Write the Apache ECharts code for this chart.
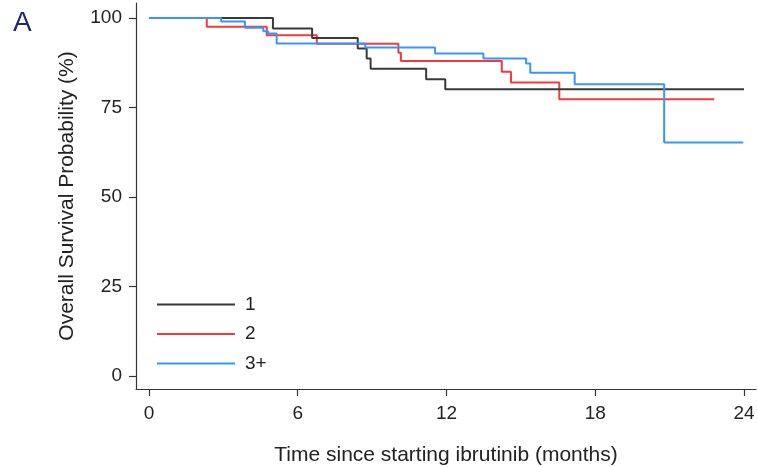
<!DOCTYPE html>
<html><head><meta charset="utf-8">
<script src="https://cdn.jsdelivr.net/npm/echarts@6/dist/echarts.min.js"></script>
<style>html,body{margin:0;padding:0;background:#fff}#c{width:758px;height:467px}</style>
</head><body><div id="c"></div>
<script>
var seriesNames = ['1', '2', '3+'];
var times1 = [0, 5.0, 6.58, 8.42, 8.78, 8.94, 11.18, 11.95, 24.0];
var surv1  = [100, 97.1, 94.4, 91.5, 88.7, 85.8, 82.9, 80.1, 80.1];
var times2 = [0, 2.33, 4.75, 6.77, 10.06, 10.16, 14.23, 14.6, 16.55, 22.8];
var surv2  = [100, 97.6, 95.2, 92.8, 90.3, 88.0, 85.0, 82.0, 77.3, 77.3];
var times3 = [0, 2.91, 3.87, 4.61, 4.8, 5.15, 8.72, 11.54, 13.49, 15.21, 15.38, 17.17, 20.78, 23.97];
var surv3  = [100, 99.0, 97.3, 96.3, 95.7, 92.9, 91.8, 90.1, 88.7, 87.3, 84.7, 81.5, 65.2, 65.2];
var xTicks = [0, 6, 12, 18, 24];
var yTicks = [0, 25, 50, 75, 100];
// axis frame extends a little beyond the data range (Stata-style offset axes)
var xRange = [-0.524, 24.484];
var yRange = [-3.63, 104.2];

function pairs(t, s) { return t.map(function (v, i) { return [v, s[i]]; }); }
var colors = ['#3a3a3a', '#f23a3a', '#3696fa'];
var font = 'Liberation Sans, Arial, sans-serif';
var chart = echarts.init(document.getElementById('c'), null, {renderer: 'canvas'});
chart.setOption({
  animation: false,
  backgroundColor: '#fff',
  textStyle: {fontFamily: font},
  grid: {left: 136, right: 2, top: 3, bottom: 78, containLabel: false, outerBoundsMode: 'none'},
  title: {text: 'A', left: 8, top: 4, textStyle: {fontSize: 28, fontWeight: 'normal', color: '#1f2a6b', fontFamily: font}},
  legend: {
    orient: 'vertical', left: 152, top: 290, itemWidth: 78, itemHeight: 14, itemGap: 10.5,
    icon: 'path://M0,6 L78,6 L78,8 L0,8 Z',
    textStyle: {fontSize: 19, color: '#222', padding: [0, 0, 0, 5], fontFamily: font},
    data: seriesNames
  },
  xAxis: {
    type: 'value', min: xRange[0], max: xRange[1],
    name: 'Time since starting ibrutinib (months)', nameLocation: 'middle', nameGap: 56,
    nameTextStyle: {fontSize: 21, color: '#222'},
    axisLine: {show: true, onZero: false, lineStyle: {color: '#333', width: 1.2}}, splitLine: {show: false},
    axisTick: {show: true, length: 7, customValues: xTicks, lineStyle: {color: '#333', width: 1.2}},
    axisLabel: {fontSize: 19, color: '#222', margin: 15, customValues: xTicks}
  },
  yAxis: {
    type: 'value', min: yRange[0], max: yRange[1],
    name: 'Overall Survival Probability (%)', nameLocation: 'middle', nameGap: 58,
    nameTextStyle: {fontSize: 21, color: '#222'},
    axisLine: {show: true, onZero: false, lineStyle: {color: '#333', width: 1.2}}, splitLine: {show: false},
    axisTick: {show: true, length: 7, customValues: yTicks, lineStyle: {color: '#333', width: 1.2}},
    axisLabel: {fontSize: 19, color: '#222', margin: 14, customValues: yTicks}
  },
  series: [
    {name: seriesNames[0], type: 'line', step: 'end', symbol: 'none', data: pairs(times1, surv1), lineStyle: {color: colors[0], width: 2}, itemStyle: {color: colors[0]}, z: 3},
    {name: seriesNames[1], type: 'line', step: 'end', symbol: 'none', data: pairs(times2, surv2), lineStyle: {color: colors[1], width: 2}, itemStyle: {color: colors[1]}, z: 2},
    {name: seriesNames[2], type: 'line', step: 'end', symbol: 'none', data: pairs(times3, surv3), lineStyle: {color: colors[2], width: 2}, itemStyle: {color: colors[2]}, z: 4}
  ]
});
</script></body></html>
